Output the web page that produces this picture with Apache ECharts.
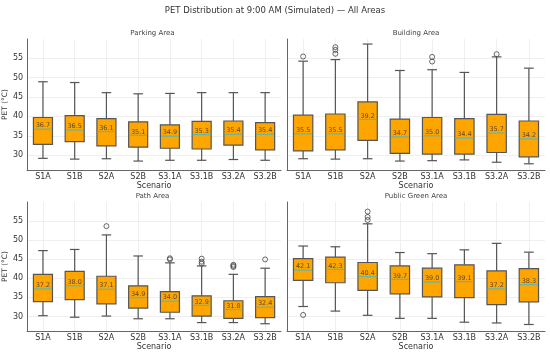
<!DOCTYPE html>
<html><head><meta charset="utf-8">
<script src="https://cdn.jsdelivr.net/npm/echarts@6/dist/echarts.min.js"></script>
<style>html,body{margin:0;padding:0;background:#fff}#c{width:550px;height:352px}</style>
</head><body><div id="c"></div>
<script>
// ---- data ----
const categories = ['S1A','S1B','S2A','S2B','S3.1A','S3.1B','S3.2A','S3.2B'];
const yTicks = [30,35,40,45,50,55];
const areaTitles = ['Parking Area','Building Area','Path Area','Public Green Area'];
// [lower whisker, Q1, median, Q3, upper whisker]
const parkingStats = [[29.2,32.8,36.7,39.7,48.9],[29.0,33.5,36.5,40.2,48.7],[29.1,32.4,36.1,39.4,46.1],[28.5,32.1,35.1,38.6,45.8],[28.7,31.8,34.9,37.8,45.9],[28.7,31.6,35.3,38.7,46.1],[28.9,32.6,35.4,38.8,46.1],[28.7,31.4,35.4,38.4,46.1]];
const buildingStats = [[29.1,31.1,35.5,40.3,54.2],[29.0,31.4,35.5,40.6,54.6],[29.1,33.8,39.2,43.7,58.6],[28.5,30.5,34.7,39.3,51.8],[28.6,30.3,35.0,39.7,52.0],[28.8,30.3,34.4,39.4,51.3],[28.2,30.7,35.7,40.5,55.3],[27.8,29.6,34.2,38.8,52.4]];
const pathStats = [[30.2,33.9,37.2,41.0,47.2],[29.8,34.4,38.0,41.8,47.5],[30.1,33.3,37.1,40.5,51.3],[29.4,32.2,34.9,38.0,45.8],[29.4,31.1,34.0,36.5,44.0],[28.4,30.1,32.9,35.4,43.2],[28.4,29.5,31.8,34.1,41.0],[28.1,29.7,32.4,35.2,42.6]];
const greenStats = [[32.6,39.4,42.1,45.1,48.4],[31.4,38.8,42.3,45.5,48.2],[30.3,36.8,40.4,44.1,54.2],[29.5,35.9,39.7,43.2,46.7],[29.5,35.1,39.0,42.6,46.4],[28.5,34.9,39.1,43.5,47.4],[28.3,33.1,37.2,41.9,49.1],[27.9,33.8,38.3,42.5,46.8]];
// outliers: [category index, value]
const parkingOutliers = [];
const buildingOutliers = [[0,55.4],[1,57.8],[1,57.1],[1,56.1],[4,55.3],[4,54.1],[6,56.0]];
const pathOutliers = [[2,53.6],[4,45.2],[4,44.9],[5,45.1],[5,44.3],[5,43.8],[6,43.5],[6,43.2],[6,42.9],[7,44.9]];
const greenOutliers = [[0,30.4],[2,57.4],[2,56.0],[2,55.2]];

const allStats = [parkingStats, buildingStats, pathStats, greenStats];
const allOutliers = [parkingOutliers, buildingOutliers, pathOutliers, greenOutliers];

// ---- layout ----
const grids = [
  {left:24, top:39, width:257, height:131},
  {left:287, top:39, width:258, height:131},
  {left:24, top:202, width:257, height:131},
  {left:287, top:202, width:258, height:131}
];
const FONT = 'DejaVu Sans';
const edge = '#555';

function renderBox(params, api) {
  const i = api.value(0);
  const lo = api.coord([i, api.value(1)]);
  const q1 = api.coord([i, api.value(2)]);
  const md = api.coord([i, api.value(3)]);
  const q3 = api.coord([i, api.value(4)]);
  const hi = api.coord([i, api.value(5)]);
  const band = api.size([1, 0])[0];
  const bw = band * 0.6;
  const cw = bw / 2;
  const cx = lo[0];
  const ls = {stroke: edge, lineWidth: 1.2};
  return {type:'group', children:[
    {type:'line', shape:{x1:cx,y1:lo[1],x2:cx,y2:q1[1]}, style:ls},
    {type:'line', shape:{x1:cx,y1:q3[1],x2:cx,y2:hi[1]}, style:ls},
    {type:'line', shape:{x1:cx-cw/2,y1:lo[1],x2:cx+cw/2,y2:lo[1]}, style:ls},
    {type:'line', shape:{x1:cx-cw/2,y1:hi[1],x2:cx+cw/2,y2:hi[1]}, style:ls},
    {type:'rect', shape:{x:cx-bw/2, y:q3[1], width:bw, height:q1[1]-q3[1]}, style:{fill:'#FFA500', stroke:edge, lineWidth:1.2}},
    {type:'line', shape:{x1:cx-bw/2+0.6,y1:md[1],x2:cx+bw/2-0.6,y2:md[1]}, style:{stroke:'#5cb8b2', lineWidth:1.2}},
    {type:'text', x:cx, y:md[1], style:{text: api.value(3).toFixed(1), fill:'#5a4a30', font:'6.5px "' + FONT + '"', align:'center', verticalAlign:'bottom'}}
  ]};
}

const xAxes = [], yAxes = [], series = [], graphics = [];
grids.forEach((g, k) => {
  xAxes.push({
    gridIndex:k, type:'category', data:categories,
    axisLine:{show:true, lineStyle:{color:'#666', width:1}},
    axisTick:{show:false},
    axisLabel:{fontFamily:FONT, fontSize:8, color:'#333', margin:3, interval:0},
    splitLine:{show:true, alignWithLabel:true, lineStyle:{color:'#ebebeb', width:0.8}},
    name:'Scenario', nameLocation:'middle', nameGap:12,
    nameTextStyle:{fontFamily:FONT, fontSize:8, color:'#333'}
  });
  yAxes.push({
    gridIndex:k, type:'value', min:26.2, max:59.9,
    axisLine:{show:true, lineStyle:{color:'#666', width:1}},
    axisTick:{show:false, customValues:yTicks},
    axisLabel:{show: k % 2 === 0, customValues:yTicks, fontFamily:FONT, fontSize:8, color:'#333', margin:4},
    splitLine:{show:true, lineStyle:{color:'#ebebeb', width:0.8}},
    name: k % 2 === 0 ? 'PET (°C)' : '', nameLocation:'middle', nameGap:12,
    nameTextStyle:{fontFamily:FONT, fontSize:7.5, color:'#333'}
  });
  series.push({
    type:'custom', xAxisIndex:k, yAxisIndex:k,
    data: allStats[k].map((s, i) => [i, ...s]),
    encode:{x:0, y:[1,2,3,4,5]},
    renderItem: renderBox, z:3
  });
  series.push({
    type:'scatter', xAxisIndex:k, yAxisIndex:k,
    data: allOutliers[k], symbol:'circle', symbolSize:5,
    itemStyle:{color:'rgba(255,255,255,0)', borderColor:'#444', borderWidth:1}, z:4
  });
  graphics.push({type:'text', x: g.left + g.width/2, y: g.top - 6,
    style:{text: areaTitles[k], font:'7px "' + FONT + '"', fill:'#444', align:'center', verticalAlign:'middle'}});
});
graphics.push({type:'text', x:275, y:11,
  style:{text:'PET Distribution at 9:00 AM (Simulated) — All Areas', font:'8.5px "' + FONT + '"', fill:'#333', align:'center', verticalAlign:'middle'}});

const chart = echarts.init(document.getElementById('c'), null, {renderer:'canvas'});
chart.setOption({
  animation:false,
  backgroundColor:'#fff',
  grid: grids,
  xAxis: xAxes,
  yAxis: yAxes,
  series: series,
  graphic: graphics
});
</script>
</body></html>
